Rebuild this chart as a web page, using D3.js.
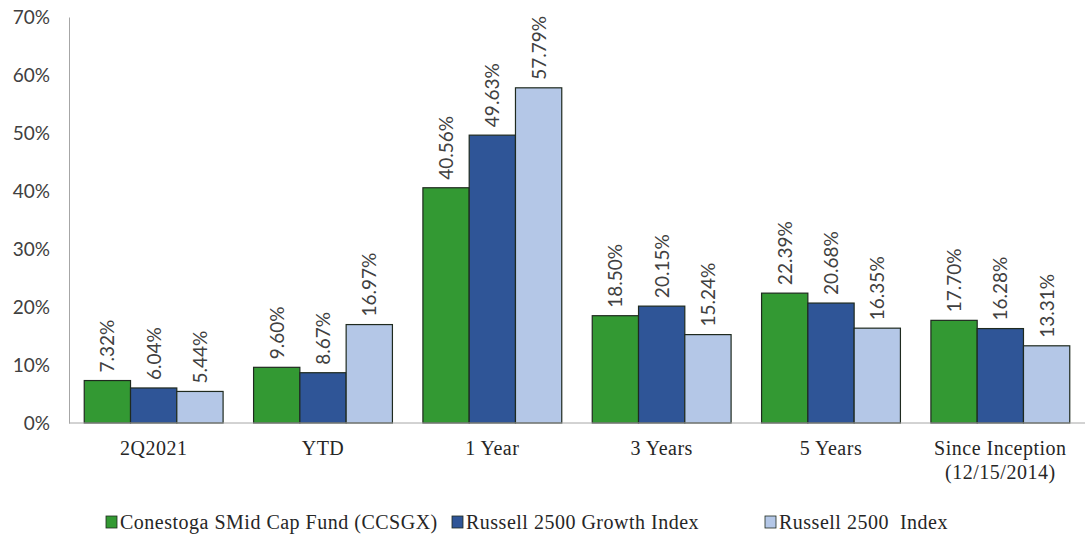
<!DOCTYPE html>
<html>
<head>
<meta charset="utf-8">
<script src="https://cdn.jsdelivr.net/npm/d3@7"></script>
<style>
  body { margin: 0; background: #fff; }
  svg { display: block; }
</style>
</head>
<body>
<div id="chart"></div>
<script>
const categories = ['2Q2021', 'YTD', '1 Year', '3 Years', '5 Years', 'Since Inception|(12/15/2014)'];
const seriesNames = ['Conestoga SMid Cap Fund (CCSGX)', 'Russell 2500 Growth Index', 'Russell 2500  Index'];
const fundValues = [7.32, 9.60, 40.56, 18.50, 22.39, 17.70];
const growthValues = [6.04, 8.67, 49.63, 20.15, 20.68, 16.28];
const indexValues = [5.44, 16.97, 57.79, 15.24, 16.35, 13.31];
const yTicks = [0, 10, 20, 30, 40, 50, 60, 70];

const colors = ['#339933', '#2f5597', '#b4c7e7'];
const w = 1092, h = 535;
const plotLeft = 69, plotRight = 1085, plotTop = 17, plotBottom = 423;

const svg = d3.select('#chart').append('svg')
    .attr('width', w)
    .attr('height', h);

const x0 = d3.scaleBand()
    .domain(categories)
    .range([plotLeft, plotRight])
    .paddingInner(0.18)
    .paddingOuter(0.09);
const x1 = d3.scaleBand()
    .domain([0, 1, 2])
    .range([0, x0.bandwidth()]);
const y = d3.scaleLinear()
    .domain([0, 70])
    .range([plotBottom, plotTop]);

const rows = categories.map((c, i) => ({ cat: c, vals: [fundValues[i], growthValues[i], indexValues[i]] }));

// y axis labels
svg.append('g')
    .attr('transform', 'translate(' + plotLeft + ',0)')
    .call(d3.axisLeft(y).tickValues(yTicks).tickFormat(d => d + '%').tickSize(0).tickPadding(19))
    .call(g => g.select('.domain').attr('stroke', '#a6a6a6'))
    .call(g => g.selectAll('text')
        .attr('fill', '#404040')
        .style('font-family', 'Lato, "Open Sans", sans-serif')
        .style('font-size', '19px'));

const groups = svg.selectAll('.grp')
    .data(rows)
    .enter()
    .append('g')
    .attr('class', 'grp')
    .attr('transform', d => 'translate(' + x0(d.cat) + ',0)');

groups.selectAll('rect')
    .data(d => d.vals)
    .enter()
    .append('rect')
    .attr('x', (d, i) => x1(i))
    .attr('y', d => y(d))
    .attr('width', x1.bandwidth())
    .attr('height', d => plotBottom - y(d))
    .attr('fill', (d, i) => colors[i])
    .attr('stroke', '#1f2a1f')
    .attr('stroke-width', 1.2);

groups.selectAll('.lbl')
    .data(d => d.vals)
    .enter()
    .append('text')
    .attr('class', 'lbl')
    .attr('transform', (d, i) => 'translate(' + (x1(i) + x1.bandwidth() / 2 + 7) + ',' + (y(d) - 8) + ') rotate(-90)')
    .attr('fill', '#404040')
    .style('font-family', 'Lato, "Open Sans", sans-serif')
    .style('font-size', '19px')
    .text(d => d.toFixed(2) + '%');

// x axis
svg.append('line')
    .attr('x1', plotLeft).attr('x2', plotRight)
    .attr('y1', plotBottom).attr('y2', plotBottom)
    .attr('stroke', '#a6a6a6');

svg.selectAll('.xlab')
    .data(categories)
    .enter()
    .append('text')
    .attr('class', 'xlab')
    .attr('x', d => x0(d) + x0.bandwidth() / 2)
    .attr('y', 455)
    .attr('text-anchor', 'middle')
    .attr('fill', '#262626')
    .style('font-family', '"Liberation Serif", serif')
    .style('font-size', '20px')
    .style('letter-spacing', '0.5px')
    .selectAll('tspan')
    .data(d => d.split('|'))
    .enter()
    .append('tspan')
    .attr('x', function () { return d3.select(this.parentNode).attr('x'); })
    .attr('dy', (d, i) => i ? 24 : 0)
    .text(d => d);

// legend
const legendX = [106, 452, 765];
const legend = svg.selectAll('.leg')
    .data(seriesNames)
    .enter()
    .append('g')
    .attr('class', 'leg')
    .attr('transform', (d, i) => 'translate(' + legendX[i] + ',516)');
legend.append('rect')
    .attr('width', 11)
    .attr('height', 12)
    .attr('fill', (d, i) => colors[i])
    .attr('stroke', '#1f2a1f')
    .attr('stroke-width', 0.8);
legend.append('text')
    .attr('x', 14)
    .attr('y', 13)
    .attr('fill', '#262626')
    .style('font-family', '"Liberation Serif", serif')
    .style('font-size', '20px')
    .style('letter-spacing', '0.5px')
    .style('white-space', 'pre')
    .text(d => d);
</script>
</body>
</html>
